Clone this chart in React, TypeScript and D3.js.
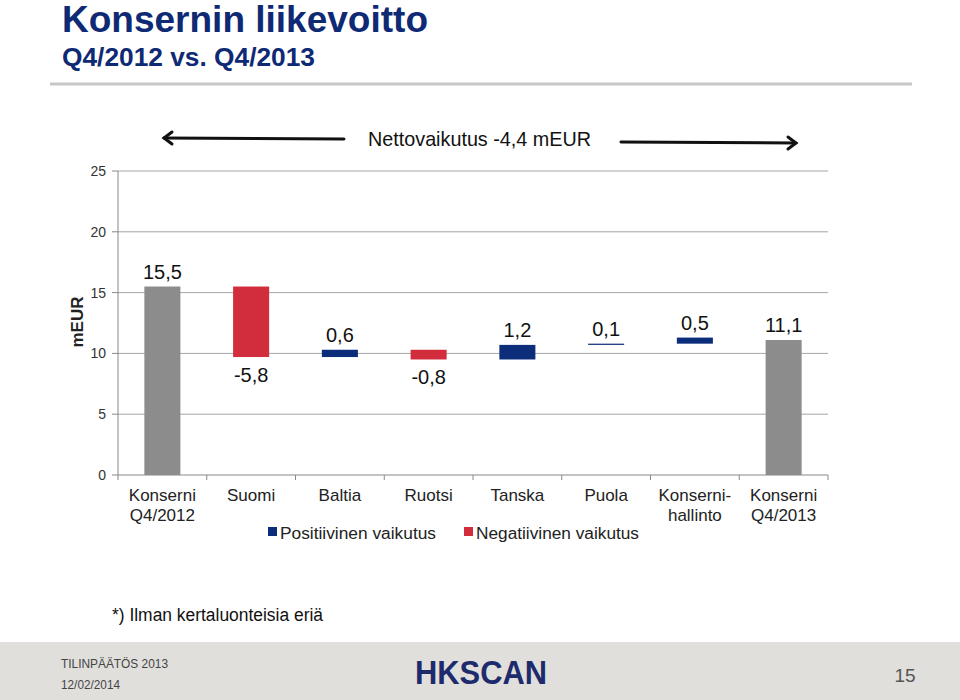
import React from "react";
import * as d3 from "d3";

// chart data
const categories = [
  "Konserni\nQ4/2012",
  "Suomi",
  "Baltia",
  "Ruotsi",
  "Tanska",
  "Puola",
  "Konserni-\nhallinto",
  "Konserni\nQ4/2013",
];
const startValue = 15.5;
const changes = [-5.8, 0.6, -0.8, 1.2, 0.1, 0.5];
const endValue = 11.1;
const yTicks = [0, 5, 10, 15, 20, 25];
const legendItems = ["Positiivinen vaikutus", "Negatiivinen vaikutus"];

const NAVY = "#0f2a74";
const GRAY = "#8c8c8c";
const BLUE = "#0b2d7a";
const RED = "#d22d3c";
const FONT = "Arial, 'Liberation Sans', sans-serif";

const fi = d3.formatLocale({
  decimal: ",",
  thousands: " ",
  grouping: [3],
  currency: ["", "€"],
  minus: "-",
});
const fmt = fi.format(".1f");

type Bar = { cat: string; y0: number; y1: number; color: string; value: number; kind: "total" | "pos" | "neg" };

function buildBars(): Bar[] {
  const bars: Bar[] = [];
  bars.push({ cat: categories[0], y0: 0, y1: startValue, color: GRAY, value: startValue, kind: "total" });
  let run = startValue;
  changes.forEach((c, i) => {
    const next = run + c;
    bars.push({
      cat: categories[i + 1],
      y0: Math.min(run, next),
      y1: Math.max(run, next),
      color: c >= 0 ? BLUE : RED,
      value: c,
      kind: c >= 0 ? "pos" : "neg",
    });
    run = next;
  });
  bars.push({ cat: categories[categories.length - 1], y0: 0, y1: endValue, color: GRAY, value: endValue, kind: "total" });
  return bars;
}

export default function App() {
  const left = 118;
  const right = 828;
  const top = 171;
  const bottom = 475;

  const x = d3.scaleBand<string>().domain(categories).range([left, right]).paddingInner(0.594).paddingOuter(0.297);
  const y = d3.scaleLinear().domain([0, 25]).range([bottom, top]);
  const step = x.step();
  const bars = buildBars();

  return (
    <svg width={960} height={700} style={{ position: "absolute", left: 0, top: 0, background: "#fff" }} fontFamily={FONT}>
      {/* title */}
      <text x={62} y={32} fontSize={37} fontWeight="bold" fill={NAVY} textLength={366} lengthAdjust="spacingAndGlyphs">
        Konsernin liikevoitto
      </text>
      <text x={62} y={66} fontSize={25} fontWeight="bold" fill={NAVY} textLength={253} lengthAdjust="spacingAndGlyphs">
        Q4/2012 vs. Q4/2013
      </text>
      <line x1={50} x2={912} y1={84} y2={84} stroke="#c8c8c8" strokeWidth={3} />

      {/* net effect annotation */}
      <g stroke="#111" strokeWidth={3} fill="none" strokeLinecap="round">
        <line x1={164} x2={344} y1={138} y2={139} />
        <polyline points="172,132 164,138 172,144" />
        <line x1={621} x2={796} y1={142} y2={143} />
        <polyline points="788,137 796,143 788,149" />
      </g>
      <text x={368} y={146} fontSize={21} fill="#111" textLength={223} lengthAdjust="spacingAndGlyphs">
        Nettovaikutus -4,4 mEUR
      </text>

      {/* grid */}
      {yTicks.slice(1).map((t) => (
        <line key={t} x1={left} x2={right} y1={y(t)} y2={y(t)} stroke="#a6a6a6" strokeWidth={1} />
      ))}
      {/* axes */}
      <line x1={left} x2={left} y1={top} y2={bottom} stroke="#888" />
      <line x1={left} x2={right} y1={bottom} y2={bottom} stroke="#888" />
      {yTicks.map((t) => (
        <g key={t}>
          <line x1={left - 6} x2={left} y1={y(t)} y2={y(t)} stroke="#888" />
          <text x={106} y={y(t)} dy="0.35em" textAnchor="end" fontSize={14} fill="#333">
            {t}
          </text>
        </g>
      ))}
      {d3.range(categories.length + 1).map((i) => (
        <line key={i} x1={left + i * step} x2={left + i * step} y1={bottom} y2={bottom + 5} stroke="#888" />
      ))}
      <text transform={`translate(83,322) rotate(-90)`} textAnchor="middle" fontSize={17} fontWeight="bold" fill="#222">
        mEUR
      </text>

      {/* bars */}
      {bars.map((b) => {
        const bx = x(b.cat)!;
        const yTop = y(b.y1);
        const yBot = y(b.y0);
        const h = Math.max(1.2, yBot - yTop);
        const cx = bx + x.bandwidth() / 2;
        const ly = b.kind === "neg" ? yBot + 25 : yTop - 8;
        return (
          <g key={b.cat}>
            <rect x={bx} y={yTop} width={x.bandwidth()} height={h} fill={b.color} />
            <text x={cx} y={ly} textAnchor="middle" fontSize={20} fill="#111">
              {fmt(b.value)}
            </text>
          </g>
        );
      })}

      {/* category labels */}
      {categories.map((c) => {
        const cx = x(c)! + x.bandwidth() / 2;
        return c.split("\n").map((line, j) => (
          <text key={c + j} x={cx} y={501 + j * 20} textAnchor="middle" fontSize={17} fill="#222">
            {line}
          </text>
        ));
      })}

      {/* legend */}
      <rect x={268} y={527} width={9} height={9} fill={BLUE} />
      <text x={280} y={539} fontSize={16} fill="#222" textLength={156} lengthAdjust="spacingAndGlyphs">
        {legendItems[0]}
      </text>
      <rect x={464} y={527} width={9} height={9} fill={RED} />
      <text x={476} y={539} fontSize={16} fill="#222" textLength={163} lengthAdjust="spacingAndGlyphs">
        {legendItems[1]}
      </text>

      {/* footnote */}
      <text x={112} y={621} fontSize={18} fill="#111" textLength={211} lengthAdjust="spacingAndGlyphs">
        *) Ilman kertaluonteisia eriä
      </text>

      {/* footer */}
      <rect x={0} y={642} width={960} height={58} fill="#e0dfdc" />
      <text x={61} y={668} fontSize={12} fill="#444" textLength={107} lengthAdjust="spacingAndGlyphs">
        TILINPÄÄTÖS 2013
      </text>
      <text x={61} y={689} fontSize={12} fill="#444" textLength={59} lengthAdjust="spacingAndGlyphs">
        12/02/2014
      </text>
      <text x={415} y={684} fontSize={33} fontWeight="bold" fill="#1d2a6b" textLength={132} lengthAdjust="spacingAndGlyphs">
        HKSCAN
      </text>
      <text x={905} y={682} textAnchor="middle" fontSize={19} fill="#555">
        15
      </text>
    </svg>
  );
}
